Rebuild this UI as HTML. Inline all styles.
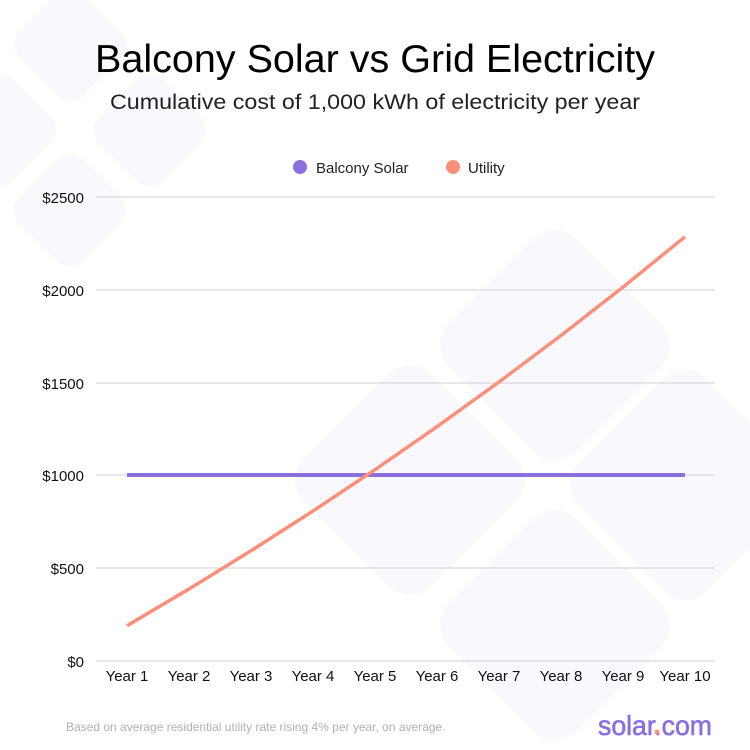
<!DOCTYPE html>
<html><head><meta charset="utf-8"><style>
body{margin:0;background:#fff}
svg{display:block;font-family:"Liberation Sans",sans-serif}
</style></head><body>
<svg width="750" height="750" viewBox="0 0 750 750">
<g fill="#f9f9fd">
<rect x="-45" y="-45" width="90" height="90" rx="18" transform="translate(70,45) rotate(45)"/>
<rect x="-45" y="-45" width="90" height="90" rx="18" transform="translate(150,130) rotate(45)"/>
<rect x="-45" y="-45" width="90" height="90" rx="18" transform="translate(0,130) rotate(45)"/>
<rect x="-45" y="-45" width="90" height="90" rx="18" transform="translate(70,210) rotate(45)"/>
<rect x="-90" y="-90" width="180" height="180" rx="30" transform="translate(555,345) rotate(45)"/>
<rect x="-90" y="-90" width="180" height="180" rx="30" transform="translate(685,485) rotate(45)"/>
<rect x="-90" y="-90" width="180" height="180" rx="30" transform="translate(410,480) rotate(45)"/>
<rect x="-90" y="-90" width="180" height="180" rx="30" transform="translate(555,625) rotate(45)"/>
</g>
<text x="95" y="72" font-size="39" fill="#000" textLength="560" lengthAdjust="spacingAndGlyphs">Balcony Solar vs Grid Electricity</text>
<text x="110" y="109" font-size="21" fill="#222" textLength="530" lengthAdjust="spacingAndGlyphs">Cumulative cost of 1,000 kWh of electricity per year</text>
<circle cx="300" cy="167" r="7" fill="#8a6fdf"/>
<text x="316" y="173" font-size="15" fill="#222">Balcony Solar</text>
<circle cx="453" cy="167" r="7" fill="#fb8f7a"/>
<text x="468" y="173" font-size="15" fill="#222">Utility</text>
<g stroke="#d0d0d0" stroke-width="1">
<line x1="96" x2="715" y1="197" y2="197"/><line x1="96" x2="715" y1="290" y2="290"/>
<line x1="96" x2="715" y1="383" y2="383"/><line x1="96" x2="715" y1="475" y2="475"/>
<line x1="96" x2="715" y1="568" y2="568"/><line x1="96" x2="715" y1="661" y2="661"/>
</g>
<g font-size="15" fill="#111" text-anchor="end">
<text x="84" y="203">$2500</text><text x="84" y="296">$2000</text><text x="84" y="389">$1500</text>
<text x="84" y="481">$1000</text><text x="84" y="574">$500</text><text x="84" y="667">$0</text>
</g>
<g font-size="15" fill="#111" text-anchor="middle">
<text x="127" y="681">Year 1</text><text x="189" y="681">Year 2</text><text x="251" y="681">Year 3</text>
<text x="313" y="681">Year 4</text><text x="375" y="681">Year 5</text><text x="437" y="681">Year 6</text>
<text x="499" y="681">Year 7</text><text x="561" y="681">Year 8</text><text x="623" y="681">Year 9</text>
<text x="685" y="681">Year 10</text>
</g>
<line x1="127" x2="685" y1="475" y2="475" stroke="#8a6fdf" stroke-width="4"/>
<polyline fill="none" stroke="#fb8f7a" stroke-width="3.5" stroke-linejoin="round"
points="127,625.7 189,589 251,550.8 313,511 375,469.7 437,426.7 499,382 561,335.5 623,287.1 685,236.8"/>
<text x="66" y="731" font-size="12" fill="#b0b0b8">Based on average residential utility rate rising 4% per year, on average.</text>
<text x="598" y="735" font-size="28" fill="#8a6fdf" stroke="#8a6fdf" stroke-width="0.6" textLength="114" lengthAdjust="spacingAndGlyphs">solar.com</text>
<circle cx="657" cy="732" r="2.4" fill="#fb8f7a"/>
</svg>
</body></html>
